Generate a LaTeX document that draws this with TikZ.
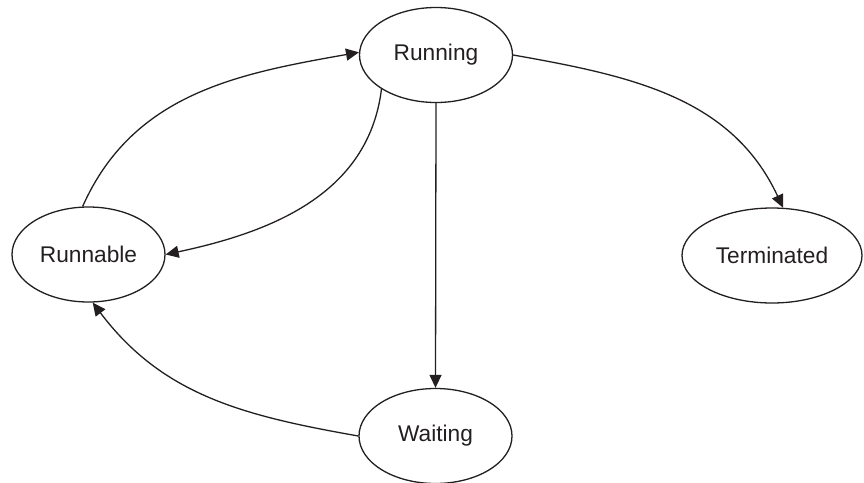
\documentclass[tikz,border=0pt]{standalone}
\usepackage{fontspec}
\setmainfont{Liberation Sans}
\usetikzlibrary{shapes.geometric,arrows.meta}
\definecolor{ink}{HTML}{231F20}
\begin{document}
\begin{tikzpicture}[x=1pt,y=-1pt,
  state/.style={draw=ink,line width=1.3pt,ellipse,inner sep=0pt,minimum width=153pt,minimum height=95pt,text=ink,font=\fontsize{22.7}{26}\selectfont},
  conn/.style={draw=ink,line width=1.3pt,-{Triangle[length=13pt,width=12pt]}}]
\useasboundingbox (0,0) rectangle (864,482);
\node[state] (running) at (436,55) {Running};
\node[state] (runnable) at (88.5,254.5) {Runnable};
\node[state,minimum width=180pt] (terminated) at (772,255.5) {Terminated};
\node[state] (waiting) at (435.5,436) {Waiting};
\draw[conn] (runnable.97) to[out=66,in=190] (running.178);
\draw[conn] (running.212) to[out=263,in=12] (runnable.0);
\draw[conn] (running.south) -- (waiting.north);
\draw[conn] (running.0) to[out=-10,in=115] (terminated.77);
\draw[conn] (waiting.180) to[out=170,in=307] (runnable.275);
\end{tikzpicture}
\end{document}
